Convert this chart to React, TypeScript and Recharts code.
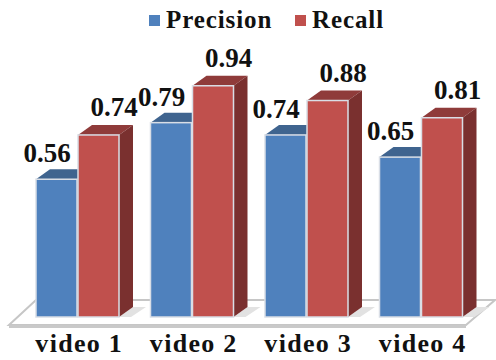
// Precision and recall per video, drawn as extruded columns on a floor plate.
import { Bar, BarChart, LabelList, Legend, XAxis, YAxis } from 'recharts';

const videos = ['video 1', 'video 2', 'video 3', 'video 4'];
const precision = [0.56, 0.79, 0.74, 0.65];
const recall = [0.74, 0.94, 0.88, 0.81];

const rows = videos.map((video, i) => ({ video, precision: precision[i], recall: recall[i] }));

const SERIF = '"Liberation Serif", serif';
const DEPTH_X = 14;
const DEPTH_Y = 10;

function Column({ x, y, width, height, fill, topFill, sideFill }: any) {
   const right = x + width;
   const bottom = y + height;
   return (
      <g>
         {/* shadow thrown on the floor */}
         <polygon
            points={`${right},${bottom} ${right + DEPTH_X},${bottom - DEPTH_Y} ${right + 27},${bottom - DEPTH_Y} ${right + 12},${bottom}`}
            fill="#e2e2e2"
         />
         <polygon
            points={`${x},${y} ${x + DEPTH_X},${y - DEPTH_Y} ${right + DEPTH_X},${y - DEPTH_Y} ${right},${y}`}
            fill={topFill}
         />
         <polygon
            points={`${right},${y} ${right + DEPTH_X},${y - DEPTH_Y} ${right + DEPTH_X},${bottom - DEPTH_Y} ${right},${bottom}`}
            fill={sideFill}
         />
         <rect x={x} y={y} width={width} height={height} fill={fill} stroke="#d9dee6" strokeWidth={1.5} />
      </g>
   );
}

function ValueLabel({ x, y, value, dx, dy }: any) {
   return (
      <text
         x={x + dx}
         y={y + dy}
         textAnchor="middle"
         fontFamily={SERIF}
         fontWeight="bold"
         fontSize={27}
         fill="#111"
      >
         {Number(value).toFixed(2)}
      </text>
   );
}

function TopLegend({ payload }: any) {
   return (
      <div style={{ position: 'relative', height: 30 }}>
         {payload.map((item: any, i: number) => (
            <div
               key={item.value}
               style={{
                  position: 'absolute',
                  left: i === 0 ? 149 : 295,
                  top: 6,
                  display: 'flex',
                  alignItems: 'center',
                  fontFamily: SERIF,
                  fontWeight: 'bold',
                  fontSize: 25,
                  letterSpacing: 0.9,
                  color: '#111',
                  whiteSpace: 'nowrap',
               }}
            >
               <span style={{ width: 11, height: 11, background: item.color, marginRight: 6 }} />
               {item.value}
            </div>
         ))}
      </div>
   );
}

export default function App() {
   return (
      <div style={{ position: 'absolute', left: 0, top: 0, width: 496, height: 360, background: '#fff' }}>
         <BarChart
            width={496}
            height={360}
            data={rows}
            margin={{ top: 41, right: 18, bottom: 0, left: 20 }}
            barSize={41}
            barGap={1}
         >
            {/* floor plate under the columns */}
            <polygon points="9,325 36,300 495,300 466,325" fill="#fff" stroke="#c6c6c6" strokeWidth={2} />
            <polygon points="9,325 466,325 466,328 9,328" fill="#c9c9c9" />
            <XAxis
               dataKey="video"
               axisLine={false}
               tickLine={false}
               interval={0}
               height={43}
               tick={{ fontFamily: SERIF, fontWeight: 'bold', fontSize: 26, fill: '#111', letterSpacing: 1.3, dx: 2 }}
               tickMargin={11}
            />
            <YAxis hide domain={[0, 1]} />
            <Legend
               verticalAlign="top"
               align="left"
               content={TopLegend}
               wrapperStyle={{ left: 0, top: 0, width: 496 }}
            />
            <Bar
               dataKey="precision"
               name="Precision"
               fill="#4f81bd"
               isAnimationActive={false}
               shape={(p: any) => <Column {...p} topFill="#3f648f" sideFill="#385d8a" />}
            >
               <LabelList dataKey="precision" content={(p: any) => <ValueLabel {...p} dx={11} dy={-17} />} />
            </Bar>
            <Bar
               dataKey="recall"
               name="Recall"
               fill="#c0504d"
               isAnimationActive={false}
               shape={(p: any) => <Column {...p} topFill="#8f3b3a" sideFill="#7a302f" />}
            >
               <LabelList dataKey="recall" content={(p: any) => <ValueLabel {...p} dx={36} dy={-19} />} />
            </Bar>
         </BarChart>
      </div>
   );
}
